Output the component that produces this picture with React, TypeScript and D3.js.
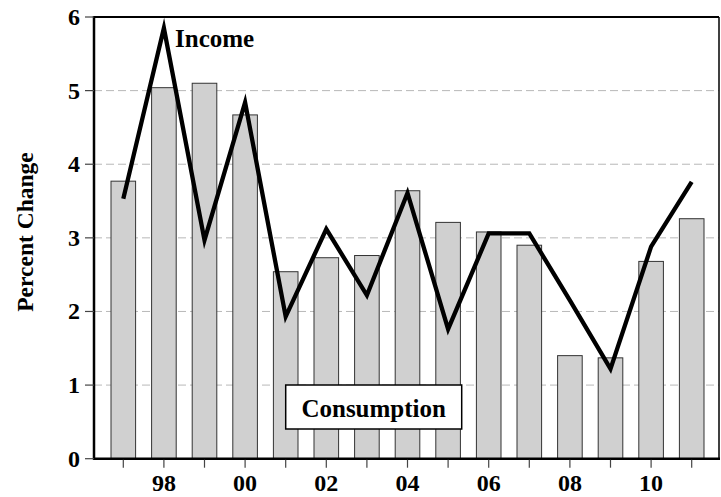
import React from "react";
import * as d3 from "d3";

const years = [1997, 1998, 1999, 2000, 2001, 2002, 2003, 2004, 2005, 2006, 2007, 2008, 2009, 2010, 2011];
const consumption = [3.77, 5.04, 5.1, 4.67, 2.54, 2.73, 2.76, 3.64, 3.21, 3.08, 2.9, 1.4, 1.37, 2.68, 3.26];
const income = [3.53, 5.85, 2.97, 4.84, 1.93, 3.12, 2.22, 3.61, 1.76, 3.06, 3.06, 2.15, 1.22, 2.88, 3.76];
const yTicks = [0, 1, 2, 3, 4, 5, 6];
const xLabelYears = [1998, 2000, 2002, 2004, 2006, 2008, 2010];

const W = 721;
const H = 497;
const left = 94;
const right = 719;
const top = 17;
const bottom = 458.7;

export default function App() {
  const x = d3.scaleLinear().domain([1997, 2011]).range([123.3, 691.7]);
  const y = d3.scaleLinear().domain([0, 6]).range([bottom, top]);
  const barW = 24.6;
  const line = d3
    .line<number>()
    .x((_, i) => x(years[i]))
    .y((d) => y(d));
  const font = "'Liberation Serif', 'Times New Roman', serif";

  return (
    <svg width={W} height={H} style={{ position: "absolute", left: 0, top: 0, background: "#fff" }}>
      <rect x={0} y={0} width={W} height={H} fill="#fff" />
      {/* grid */}
      {yTicks
        .filter((t) => t > 0 && t < 6)
        .map((t) => (
          <line key={t} x1={left} x2={right} y1={y(t)} y2={y(t)} stroke="#b8b8b8" strokeWidth={1} strokeDasharray="8,4" />
        ))}
      {/* bars */}
      {consumption.map((v, i) => (
        <rect
          key={years[i]}
          x={x(years[i]) - barW / 2}
          y={y(v)}
          width={barW}
          height={bottom - y(v)}
          fill="#d0d0d0"
          stroke="#333"
          strokeWidth={1}
        />
      ))}
      {/* income line */}
      <path d={line(income) || ""} fill="none" stroke="#000" strokeWidth={4.3} strokeLinejoin="miter" strokeMiterlimit={10} />
      {/* frame */}
      <line x1={left} x2={right} y1={top} y2={top} stroke="#000" strokeWidth={2} />
      <line x1={right} x2={right} y1={top} y2={bottom} stroke="#000" strokeWidth={1.5} />
      <line x1={left} x2={left} y1={top - 1} y2={bottom + 1} stroke="#000" strokeWidth={2.5} />
      <line x1={left - 1} x2={right + 1} y1={bottom} y2={bottom} stroke="#000" strokeWidth={2.5} />
      {/* y ticks */}
      {yTicks.map((t) => (
        <g key={t}>
          <line x1={85} x2={left} y1={y(t)} y2={y(t)} stroke="#444" strokeWidth={1.2} />
          <text x={80} y={y(t) + 8} textAnchor="end" fontFamily={font} fontWeight="bold" fontSize={24} fill="#000">
            {t}
          </text>
        </g>
      ))}
      {/* x ticks */}
      {years.map((yr) => (
        <line key={yr} x1={x(yr)} x2={x(yr)} y1={bottom + 1} y2={bottom + 9} stroke="#444" strokeWidth={1.2} />
      ))}
      {xLabelYears.map((yr) => (
        <text key={yr} x={x(yr)} y={491} textAnchor="middle" fontFamily={font} fontWeight="bold" fontSize={24} fill="#000">
          {String(yr % 100).padStart(2, "0")}
        </text>
      ))}
      {/* y axis title */}
      <text
        transform={`translate(33, 232) rotate(-90)`}
        textAnchor="middle"
        fontFamily={font}
        fontWeight="bold"
        fontSize={23.5}
        fill="#000"
      >
        Percent Change
      </text>
      {/* labels */}
      <text x={175} y={47} fontFamily={font} fontWeight="bold" fontSize={25} fill="#000">
        Income
      </text>
      <rect x={285.7} y={385} width={176} height={44} fill="#fff" stroke="#000" strokeWidth={1.5} />
      <text x={373.7} y={416.5} textAnchor="middle" fontFamily={font} fontWeight="bold" fontSize={25} fill="#000">
        Consumption
      </text>
    </svg>
  );
}
